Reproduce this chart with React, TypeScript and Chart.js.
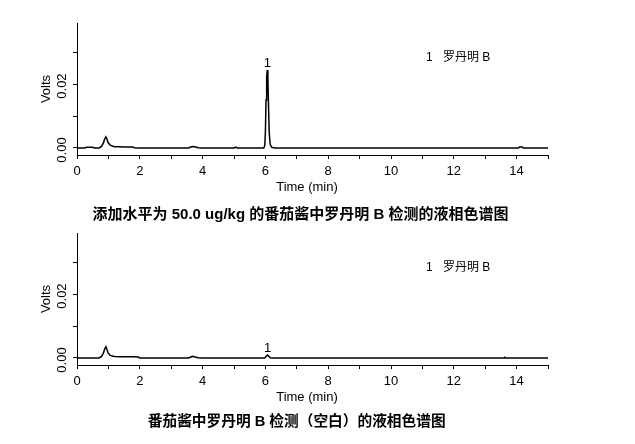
import React, { useEffect, useRef } from "react";
import { Chart, registerables } from "chart.js";

Chart.register(...registerables);

// ---- data ----
const xTickValues = [0, 1, 2, 3, 4, 5, 6, 7, 8, 9, 10, 11, 12, 13, 14, 15];
const xLabelValues = [0, 2, 4, 6, 8, 10, 12, 14];
const yTickValues = [0, 0.01, 0.02, 0.03];
const yLabelValues = [0, 0.02];
const yLabelTexts = ["0.00", "0.02"];

const xAxisTitle = "Time (min)";
const yAxisTitle = "Volts";
const legendNumber = "1";
const legendName = "罗丹明 B";

const spikedTitle = "添加水平为 50.0 ug/kg 的番茄酱中罗丹明 B 检测的液相色谱图";
const blankTitle = "番茄酱中罗丹明 B 检测（空白）的液相色谱图";

// chromatogram of the spiked sample: [time (min), volts]
const spikedTrace: [number, number][] = [
  [0, 0], [0.25, 0], [0.3, 0.0002], [0.5, 0.0002], [0.55, 0], [0.7, 0],
  [0.78, 0.0005], [0.84, 0.0015], [0.88, 0.0028], [0.92, 0.0035], [0.95, 0.0029],
  [0.99, 0.0017], [1.05, 0.001], [1.12, 0.0006], [1.2, 0.0004], [1.35, 0.0004],
  [1.5, 0.0003], [1.65, 0.0003], [1.78, 0.0003], [1.82, 0.0001], [2.0, 0],
  [3.55, 0], [3.62, 0.0003], [3.7, 0.0005], [3.78, 0.0003], [3.86, 0.0001], [3.95, 0],
  [5.0, 0], [5.05, 0.0003], [5.1, 0],
  [5.95, 0], [5.98, 0.0008], [6.0, 0.005], [6.02, 0.015], [6.04, 0.0222],
  [6.06, 0.0244], [6.08, 0.0215], [6.1, 0.013], [6.12, 0.005], [6.15, 0.0012],
  [6.2, 0.0002], [6.3, 0],
  [14.05, 0], [14.1, 0.0003], [14.18, 0.0003], [14.22, 0], [15, 0],
];

// chromatogram of the blank sample: [time (min), volts]
const blankTrace: [number, number][] = [
  [0, 0], [0.7, 0], [0.78, 0.0005], [0.84, 0.0015], [0.88, 0.0028], [0.92, 0.0035],
  [0.95, 0.0028], [0.99, 0.0016], [1.05, 0.0009], [1.12, 0.0006], [1.2, 0.0005],
  [1.4, 0.0004], [1.6, 0.0004], [1.8, 0.0004], [1.95, 0.0003], [2.0, 0],
  [3.55, 0], [3.62, 0.0003], [3.7, 0.0005], [3.76, 0.0003], [3.85, 0.0001], [3.95, 0],
  [5.98, 0], [6.03, 0.0006], [6.07, 0.0009], [6.11, 0.0005], [6.16, 0.0001], [6.22, 0],
  [13.6, 0], [13.63, 0.0002], [13.66, 0], [15, 0],
];

const spikedPeak: [number, number] = [6.06, 0.0244];
const blankPeak: [number, number] = [6.07, 0.0009];

// ---- styling ----
const FONT = '"Liberation Sans", Arial, "Noto Sans CJK SC", sans-serif';
const W = 635;
const H = 210;

function ChromChart({ trace, peak }: { trace: [number, number][]; peak: [number, number] }) {
  const ref = useRef<HTMLCanvasElement | null>(null);
  useEffect(() => {
    if (!ref.current) return;
    const annot = {
      id: "annot",
      afterDraw(chart: any) {
        const ctx = chart.ctx;
        const ys = chart.scales.y;
        const xs = chart.scales.x;
        ctx.save();
        ctx.fillStyle = "#000";
        // rotated y tick labels
        ctx.font = `13px ${FONT}`;
        ctx.textAlign = "center";
        ctx.textBaseline = "middle";
        yLabelValues.forEach((v, i) => {
          const py = ys.getPixelForValue(v);
          ctx.save();
          ctx.translate(62, py + 2);
          ctx.rotate(-Math.PI / 2);
          ctx.fillText(yLabelTexts[i], 0, 0);
          ctx.restore();
        });
        // x axis title
        ctx.textAlign = "center";
        ctx.textBaseline = "middle";
        ctx.fillText(xAxisTitle, 307, 187);
        // peak label
        const px = xs.getPixelForValue(peak[0]);
        const py = ys.getPixelForValue(peak[1]);
        ctx.textAlign = "center";
        ctx.textBaseline = "alphabetic";
        ctx.fillText(legendNumber, px, py - 3);
        // legend
        ctx.font = `12px ${FONT}`;
        ctx.textAlign = "left";
        ctx.textBaseline = "middle";
        ctx.fillText(legendNumber, 426, 58);
        ctx.fillText(legendName, 443, 58);
        ctx.restore();
      },
    };
    const chart = new Chart(ref.current, {
      type: "line",
      data: {
        datasets: [
          {
            data: trace.map(([x, y]) => ({ x, y })),
            borderColor: "#000",
            borderWidth: 1.5,
            pointRadius: 0,
            tension: 0,
            fill: false,
          },
        ],
      },
      options: {
        animation: false,
        responsive: false,
        events: [],
        layout: { padding: { left: 0, right: W - 548, top: 23, bottom: 0 } },
        plugins: { legend: { display: false }, tooltip: { enabled: false }, title: { display: false } },
        scales: {
          x: {
            type: "linear",
            min: 0,
            max: 15,
            afterFit: (s: any) => {
              s.height = H - 155;
            },
            afterBuildTicks: (s: any) => {
              s.ticks = xTickValues.map((v) => ({ value: v }));
            },
            ticks: {
              autoSkip: false,
              maxRotation: 0,
              padding: 5,
              color: "#000",
              font: { family: FONT, size: 13 },
              callback: (v: any) => (xLabelValues.includes(Number(v)) ? String(v) : ""),
            },
            grid: { drawOnChartArea: false, drawTicks: true, tickLength: 4, color: "#000", lineWidth: 1 },
            border: { display: true, color: "#000", width: 1 },
            title: { display: false },
          },
          y: {
            type: "linear",
            min: -0.00219,
            max: 0.0391,
            afterFit: (s: any) => {
              s.width = 77;
            },
            afterBuildTicks: (s: any) => {
              s.ticks = yTickValues.map((v) => ({ value: v }));
            },
            ticks: { display: false },
            grid: { drawOnChartArea: false, drawTicks: true, tickLength: 4, color: "#000", lineWidth: 1 },
            border: { display: true, color: "#000", width: 1 },
            title: {
              display: true,
              text: yAxisTitle,
              color: "#000",
              font: { family: FONT, size: 13 },
              padding: { top: 39, bottom: 0 },
            },
          },
        },
      },
      plugins: [annot],
    } as any);
    return () => chart.destroy();
  }, [trace, peak]);
  return <canvas ref={ref} width={W} height={H} style={{ display: "block", width: W, height: H }} />;
}

function Caption({ text, cx, cy, size }: { text: string; cx: number; cy: number; size: number }) {
  return (
    <div
      style={{
        position: "absolute",
        left: cx - 300,
        width: 600,
        top: cy - 10,
        height: 20,
        lineHeight: "20px",
        textAlign: "center",
        whiteSpace: "nowrap",
        fontFamily: FONT,
        fontWeight: "bold",
        fontSize: size,
        color: "#000",
      }}
    >
      {text}
    </div>
  );
}

export default function App() {
  return (
    <div style={{ position: "absolute", left: 0, top: 0, width: W, height: 444, background: "#fff", overflow: "hidden" }}>
      <div style={{ position: "absolute", left: 0, top: 0 }}>
        <ChromChart trace={spikedTrace} peak={spikedPeak} />
      </div>
      <div style={{ position: "absolute", left: 0, top: 210 }}>
        <ChromChart trace={blankTrace} peak={blankPeak} />
      </div>
      <Caption text={spikedTitle} cx={300.5} cy={214} size={15} />
      <Caption text={blankTitle} cx={296.7} cy={421} size={14.7} />
    </div>
  );
}
